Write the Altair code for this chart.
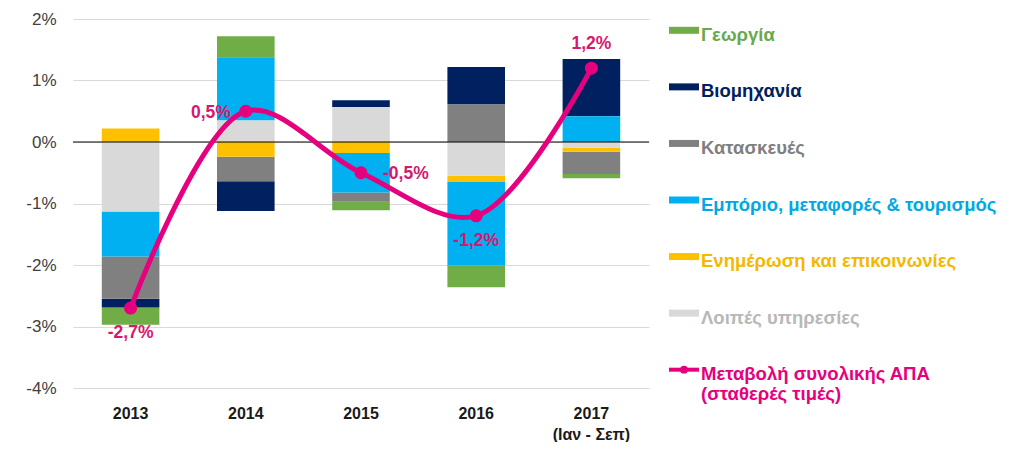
import altair as alt
import pandas as pd

# ---------------- data ----------------
years = ["2013", "2014", "2015", "2016", "2017"]
sectors = [
    "Γεωργία",
    "Βιομηχανία",
    "Κατασκευές",
    "Εμπόριο, μεταφορές & τουρισμός",
    "Ενημέρωση και επικοινωνίες",
    "Λοιπές υπηρεσίες",
]
georgia = [-0.28, 0.34, -0.14, -0.35, -0.07]
viomichania = [-0.14, -0.48, 0.11, 0.61, 0.93]
kataskeves = [-0.69, -0.40, -0.15, 0.61, -0.36]
emporio = [-0.73, 1.03, -0.64, -1.36, 0.42]
enimerosi = [0.22, -0.24, -0.18, -0.10, -0.07]
loipes = [-1.13, 0.35, 0.57, -0.55, -0.09]
apa = [-2.7, 0.5, -0.5, -1.2, 1.2]
apa_labels = ["-2,7%", "0,5%", "-0,5%", "-1,2%", "1,2%"]
line_name = "Μεταβολή συνολικής ΑΠΑ\n(σταθερές τιμές)"
y_ticks = [-4, -3, -2, -1, 0, 1, 2]

# ---------------- style ----------------
FONT = "Liberation Sans"
bar_colors = ["#70AD47", "#002060", "#808080", "#00B0F0", "#FFC000", "#D9D9D9"]
text_colors = ["#6AA84F", "#002060", "#7F7F7F", "#00A9E6", "#F5B800", "#B8B8B8", "#E6007E"]
PINK = "#E6007E"
LABEL_PINK = "#D6186F"
# stacking: first closest to zero
stack_order = [5, 4, 3, 2, 1, 0]

series = [georgia, viomichania, kataskeves, emporio, enimerosi, loipes]
rows = []
for s, vals, rk in zip(sectors, series, stack_order):
    for y, v in zip(years, vals):
        rows.append({"year": y, "sector": s, "value": v, "rank": rk})
bar_df = pd.DataFrame(rows)
line_df = pd.DataFrame({"year": years, "value": apa, "label": apa_labels})

x_enc = alt.X(
    "year:N",
    scale=alt.Scale(domain=years, paddingInner=0.5, paddingOuter=0.25),
    axis=alt.Axis(
        title=None, domain=False, ticks=False, labelAngle=0,
        labelExpr="datum.value == '2017' ? ['2017', '(Ιαν - Σεπ)'] : datum.value",
        labelFont=FONT, labelFontSize=16, labelFontWeight="bold",
        labelColor="#1A1A1A", labelPadding=17, labelLineHeight=21,
    ),
)


def y_enc(stack=None):
    kw = {}
    if stack is not None:
        kw["stack"] = stack
    return alt.Y(
        "value:Q",
        scale=alt.Scale(domain=[-4, 2], nice=False, zero=False),
        axis=alt.Axis(
            title=None, values=y_ticks, labelExpr="datum.value + '%'",
            domain=False, ticks=False, tickSize=0, labelPadding=17,
            labelFont=FONT, labelFontSize=17, labelColor="#404040",
            gridColor="#D9D9D9", gridWidth=1,
        ),
        **kw,
    )


bars = alt.Chart(bar_df).mark_bar().encode(
    x=x_enc,
    y=y_enc(stack="zero"),
    color=alt.Color("sector:N", scale=alt.Scale(domain=sectors, range=bar_colors), legend=None),
    order=alt.Order("rank:Q", sort="ascending"),
)

zero = alt.Chart(pd.DataFrame({"value": [0]})).mark_rule(color="black", strokeWidth=1).encode(
    y=y_enc()
)

line = alt.Chart(line_df).mark_line(
    interpolate="catmull-rom", color=PINK, strokeWidth=5
).encode(x=x_enc, y=y_enc())

points = alt.Chart(line_df).mark_circle(size=170, color=PINK, opacity=1).encode(
    x=x_enc, y=y_enc()
)


def label_layer(yrs, **mk):
    return (
        alt.Chart(line_df)
        .transform_filter(alt.FieldOneOfPredicate(field="year", oneOf=yrs))
        .mark_text(font=FONT, fontSize=17.5, fontWeight="bold", color=LABEL_PINK, **mk)
        .encode(x=x_enc, y=y_enc(), text="label:N")
    )


lab_below = label_layer(["2013", "2016"], baseline="middle", dy=25)
lab_above = label_layer(["2017"], baseline="middle", dy=-24)
lab_left = label_layer(["2014"], baseline="middle", align="right", dx=-15, dy=2)
lab_right = label_layer(["2015"], baseline="middle", align="left", dx=22, dy=1)

main = alt.layer(
    bars, zero, line, points, lab_below, lab_above, lab_left, lab_right
).properties(width=576, height=369)

# ---------------- manual legend ----------------
leg_items = sectors + [line_name]
leg_df = pd.DataFrame({"item": leg_items, "tcolor": text_colors})
ly = alt.Y("item:N", scale=alt.Scale(type="point", domain=leg_items, padding=0.2), axis=None)

sw = (
    alt.Chart(leg_df)
    .transform_filter(alt.FieldOneOfPredicate(field="item", oneOf=sectors))
    .mark_rule(strokeWidth=7)
    .encode(
        x=alt.value(0), x2=alt.value(30), y=ly,
        color=alt.Color("item:N", scale=alt.Scale(domain=sectors, range=bar_colors), legend=None),
    )
)
sw_line = (
    alt.Chart(leg_df)
    .transform_filter(alt.datum.item == line_name)
    .mark_rule(strokeWidth=4, color=PINK)
    .encode(x=alt.value(0), x2=alt.value(30), y=ly)
)
sw_dot = (
    alt.Chart(leg_df)
    .transform_filter(alt.datum.item == line_name)
    .mark_circle(size=60, color=PINK, opacity=1)
    .encode(x=alt.value(15), y=ly)
)
leg_text = alt.Chart(leg_df).mark_text(
    align="left", baseline="top", dy=-4.5, font=FONT, fontSize=18.5,
    fontWeight="bold", lineBreak="\n", lineHeight=20,
).encode(
    x=alt.value(32), y=ly, text="item:N",
    color=alt.Color("tcolor:N", scale=None, legend=None),
)

legend = (
    alt.layer(sw, sw_line, sw_dot, leg_text)
    .resolve_scale(color="independent")
    .properties(width=330, height=362)
)

chart = (
    alt.hconcat(main, legend, spacing=15)
    .resolve_scale(color="independent", y="independent")
    .configure_view(stroke=None)
    .properties(padding={"left": 17, "top": 2, "right": 0, "bottom": 0})
)

chart.save("out.html", embed_options={"renderer": "svg", "actions": False})
